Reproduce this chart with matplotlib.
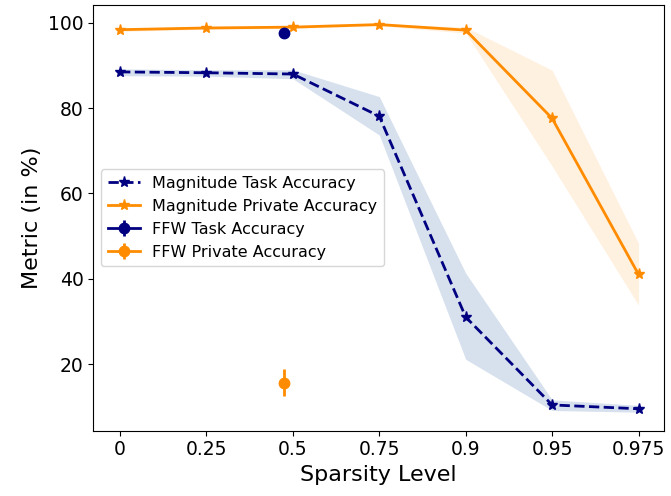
import matplotlib
matplotlib.use("Agg")
import matplotlib.pyplot as plt
import numpy as np

sparsity_labels = ["0", "0.25", "0.5", "0.75", "0.9", "0.95", "0.975"]
task_mean = [88.5, 88.3, 88.0, 78.1, 31.0, 10.4, 9.5]
task_low = [87.6, 87.5, 86.9, 73.7, 21.1, 9.1, 8.7]
task_high = [89.2, 89.0, 89.0, 82.7, 41.3, 11.6, 10.3]
priv_mean = [98.4, 98.8, 99.0, 99.6, 98.3, 77.6, 41.0]
priv_low = [98.0, 98.5, 98.7, 99.3, 97.6, 66.4, 33.8]
priv_high = [98.8, 99.1, 99.3, 99.8, 99.0, 88.9, 48.3]
ffw_pos = 1.9
ffw_task = 97.7
ffw_task_err = 0.4
ffw_priv = 15.6
ffw_priv_err = 3.2

fig = plt.figure(figsize=(6.71, 4.96), dpi=100)
ax = fig.add_axes([0.139, 0.132, 0.850, 0.858])
x = np.arange(len(sparsity_labels))

ax.plot(x, task_mean, linestyle="--", marker="*", color="navy", lw=2, ms=8,
        label="Magnitude Task Accuracy")
ax.fill_between(x, task_low, task_high, color="lightsteelblue", alpha=0.5, lw=0)
ax.plot(x, priv_mean, linestyle="-", marker="*", color="darkorange", lw=2, ms=8,
        label="Magnitude Private Accuracy")
ax.fill_between(x, priv_low, priv_high, color="darkorange", alpha=0.12, lw=0)
ax.errorbar([ffw_pos], [ffw_task], yerr=[ffw_task_err], fmt="-o", color="navy",
            ms=7.5, lw=2, elinewidth=2, label="FFW Task Accuracy")
ax.errorbar([ffw_pos], [ffw_priv], yerr=[ffw_priv_err], fmt="-o", color="darkorange",
            ms=7.5, lw=2, elinewidth=2, label="FFW Private Accuracy")

ax.set_xticks(x)
ax.set_xticklabels(sparsity_labels)
ax.set_xlim(-0.31, 6.29)
ax.set_ylim(4.4, 104.2)
ax.set_yticks([20, 40, 60, 80, 100])
ax.tick_params(labelsize=13.5)
ax.set_xlabel("Sparsity Level", fontsize=16)
ax.set_ylabel("Metric (in %)", fontsize=16)
ax.legend(loc="center left", fontsize=11.5)
fig.savefig("out.png", dpi=100)
